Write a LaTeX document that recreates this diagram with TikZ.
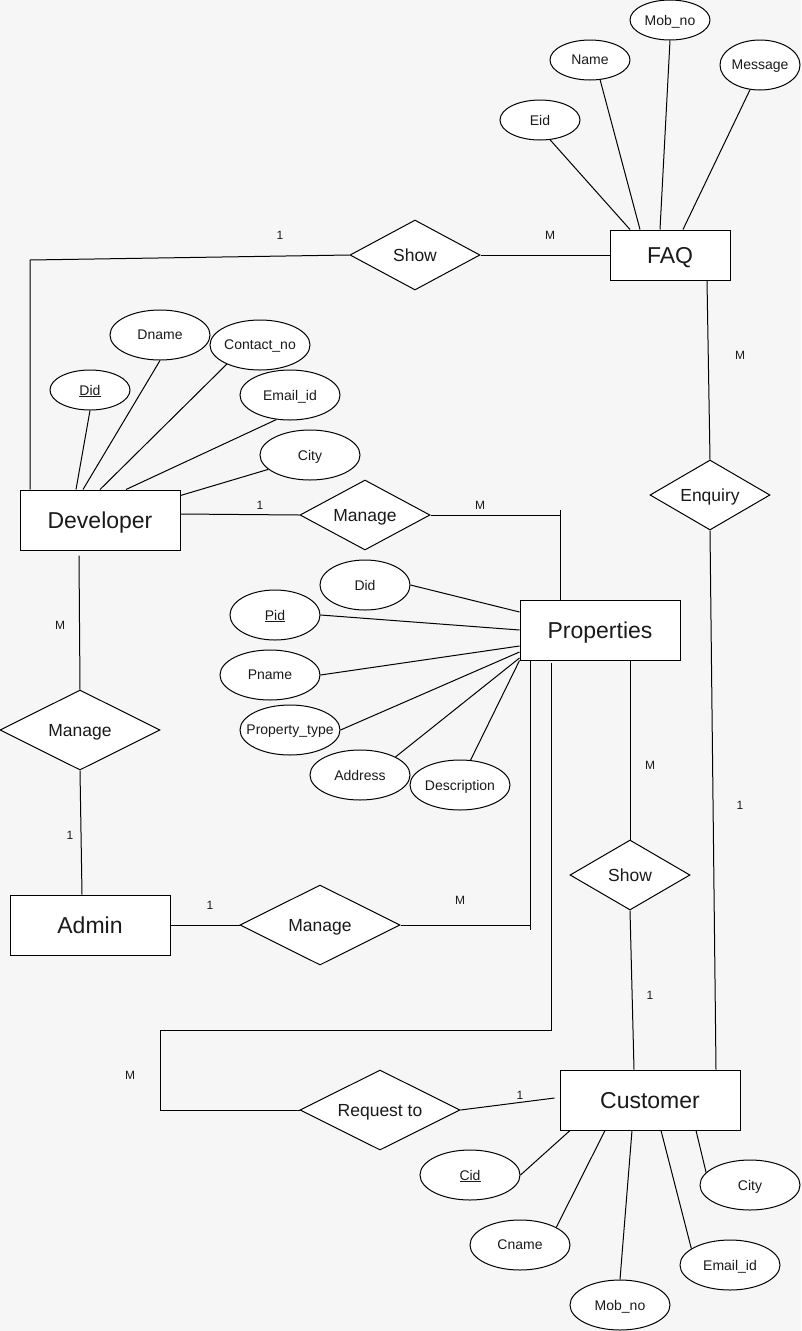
\documentclass[tikz,border=0pt]{standalone}
\usepackage{fontspec}
\setmainfont{Liberation Sans}
\usepackage{tikz}
\usetikzlibrary{shapes.geometric}
\definecolor{bgcol}{HTML}{F6F6F6}
\definecolor{txtcol}{HTML}{1A1A1A}

\tikzset{
  entity/.style={draw, fill=white, line width=1pt, inner sep=0pt, text depth=0pt,
    minimum width=160, minimum height=60, text=txtcol,
    font=\fontsize{23}{26}\selectfont},
  rel/.style={draw, diamond, aspect=2, fill=white, line width=1pt, inner sep=0pt,
    text depth=0pt, minimum width=160, minimum height=80, text=txtcol,
    font=\fontsize{17.5}{20}\selectfont},
  attr/.style={draw, ellipse, fill=white, line width=1pt, inner sep=0pt, inner xsep=-25pt,
    text depth=0pt, minimum width=100, minimum height=50, text=txtcol,
    font=\fontsize{14}{16}\selectfont},
  card/.style={inner sep=0pt, text=txtcol, font=\fontsize{12}{14}\selectfont},
  link/.style={line width=1pt}
}

\begin{document}
\begin{tikzpicture}[x=1pt, y=-1pt]
\useasboundingbox (0,0) rectangle (801,1331);
\fill [bgcol] (0,0) rectangle (801,1331);

% entities
\node [entity, minimum width=120, minimum height=50] (faq) at (670,255) {FAQ};
\node [entity] (dev) at (100,520) {Developer};
\node [entity] (prop) at (600,630) {Properties};
\node [entity] (adm) at (90,925) {Admin};
\node [entity, minimum width=180] (cust) at (650,1100) {Customer};

% relationships
\node [rel, minimum width=130, minimum height=70] (show1) at (415,255) {Show};
\node [rel, minimum width=130, minimum height=70] (mng1) at (365,515) {Manage};
\node [rel, minimum width=120, minimum height=70] (enq) at (710,495) {Enquiry};
\node [rel] (mng2) at (80,730) {Manage};
\node [rel] (mng3) at (320,925) {Manage};
\node [rel, minimum width=120, minimum height=70] (show2) at (630,875) {Show};
\node [rel] (req) at (380,1110) {Request to};

% FAQ attributes
\node [attr, minimum width=80, minimum height=40] (eid) at (540,120) {Eid};
\node [attr, minimum width=80, minimum height=40] (fname) at (590,60) {Name};
\node [attr, minimum width=80, minimum height=40] (fmob) at (670,20) {Mob\_no};
\node [attr, minimum width=80] (msg) at (760,65) {Message};

\draw [link] (eid.-63) -- ([xshift=-40pt]faq.north);
\draw [link] (fname.-63) -- ([xshift=-30pt]faq.north);
\draw [link] (fmob.south) -- ([xshift=-10pt]faq.north);
\draw [link] (msg.-112) -- ([xshift=13pt]faq.north);

% Developer attributes
\node [attr, minimum width=80, minimum height=40] (did1) at (90,390) {\underline{Did}};
\node [attr] (dname) at (160,335) {Dname};
\node [attr] (contact) at (260,345) {Contact\_no};
\node [attr] (email1) at (290,395) {Email\_id};
\node [attr] (city1) at (310,455) {City};

\draw [link] (did1.south) -- ([xshift=-24pt]dev.north);
\draw [link] (dname.south) -- ([xshift=-17pt]dev.north);
\draw [link] (contact.-150) -- (dev.north);
\draw [link] (email1.-119) -- ([xshift=26pt]dev.north);
\draw [link] (city1.-161) -- ([yshift=-6pt]dev.north east);

% Properties attributes
\node [attr, minimum width=90] (did2) at (365,585) {Did};
\node [attr, minimum width=90] (pid) at (275,615) {\underline{Pid}};
\node [attr] (pname) at (270,675) {Pname};
\node [attr] (ptype) at (290,730) {Property\_type};
\node [attr] (addr) at (360,775) {Address};
\node [attr] (desc) at (460,785) {Description};

\draw [link] (did2.east) -- ([yshift=18pt]prop.west);
\draw [link] (pid.east) -- (prop.west);
\draw [link] (pname.east) -- ([yshift=-16pt]prop.west);
\draw [link] (ptype.east) -- ([yshift=-22pt]prop.west);
\draw [link] (addr.27) -- ([yshift=-28pt]prop.west);
\draw [link] (desc.67) -- (prop.south west);

% Customer attributes
\node [attr] (cid) at (470,1175) {\underline{Cid}};
\node [attr] (cname) at (520,1245) {Cname};
\node [attr] (cmob) at (620,1305) {Mob\_no};
\node [attr] (email2) at (730,1265) {Email\_id};
\node [attr] (city2) at (750,1185) {City};

\draw [link] (cid.east) -- ([xshift=-80pt]cust.south);
\draw [link] (cname.26) -- ([xshift=-45pt]cust.south);
\draw [link] (cmob.north) -- ([xshift=-18pt]cust.south);
\draw [link] (email2.157) -- ([xshift=11pt]cust.south);
\draw [link] (city2.164) -- ([xshift=46pt]cust.south);

% relationship lines
\coordinate (showbend) at (30,260);
\coordinate (mngbend) at (560,515);
\coordinate (admbend) at (530,925);
\coordinate (reqbend) at (160,1030);

\draw [link] ([xshift=-70pt]dev.north) -- (showbend) -- (show1.west);
\draw [link] (show1.east) -- (faq.west);

\draw [link] ([yshift=6pt]dev.east) -- (mng1.west);
\draw [link] (mng1.east) -- (mngbend);
\draw [link] ([xshift=-40pt]prop.north) -- ([yshift=5pt]mngbend);

\draw [link] ([xshift=37pt]faq.south) -- (enq.north);
\draw [link] (enq.south) -- ([xshift=66pt]cust.north);

\draw [link] ([xshift=-21pt,yshift=-5pt]dev.south) -- (mng2.north);
\draw [link] (mng2.south) -- ([xshift=-8pt]adm.north);

\draw [link] (adm.east) -- (mng3.west);
\draw [link] (mng3.east) -- (admbend);
\draw [link] ([yshift=-5pt]admbend) -- ([xshift=-70pt]prop.south);

\draw [link] ([xshift=30pt]prop.south) -- (show2.north);
\draw [link] (show2.south) -- ([xshift=-16pt]cust.north);

\draw [link] ([xshift=-49pt,yshift=-2pt]prop.south) |- (reqbend) |- (req.west);
\draw [link] (req.east) -- ([xshift=-5pt,yshift=2pt]cust.west);

% cardinalities
\foreach \n/\t/\p in {a/1/{(280,235)}, b/M/{(550,235)}, c/1/{(260,505)}, d/M/{(480,505)},
    e/M/{(740,355)}, f/1/{(740,805)}, g/M/{(60,625)}, h/1/{(70,835)},
    i/1/{(210,905)}, j/M/{(460,900)}, k/M/{(650,765)}, l/1/{(650,995)},
    m/M/{(130,1075)}, n/1/{(520,1095)}}
  \node [card] (card\n) at \p {\t};

\end{tikzpicture}
\end{document}
